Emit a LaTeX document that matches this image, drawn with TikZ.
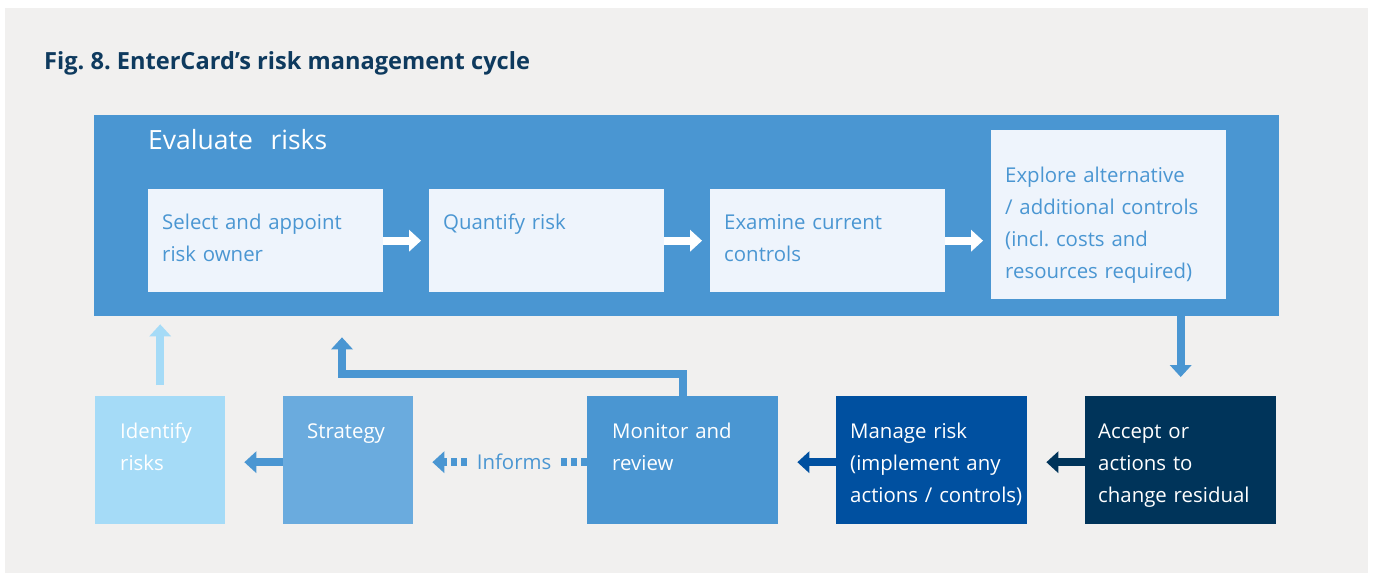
\documentclass[tikz,border=0pt]{standalone}
\usepackage{fontspec}
\setmainfont{Open Sans}
\usepackage{tikz}
\usetikzlibrary{arrows.meta}
\frenchspacing

\definecolor{panelgray}{HTML}{F1F0EF}
\definecolor{midblue}{HTML}{4A96D2}
\definecolor{paleblue}{HTML}{EEF4FC}
\definecolor{skyblue}{HTML}{A5DBF7}
\definecolor{softblue}{HTML}{6AABDE}
\definecolor{deepblue}{HTML}{0050A0}
\definecolor{navyblue}{HTML}{00345A}
\definecolor{titleblue}{HTML}{0E3A5E}

\newcommand\boxfont{\fontsize{20.4}{32}\selectfont}

\tikzset{
  innerbox/.style={fill=paleblue, text=midblue, anchor=north west, align=left, font=\boxfont,
    inner xsep=14pt, inner ysep=0pt, text width=207pt},
  stagebox/.style={text=white, anchor=north west, align=left, font=\boxfont,
    inner ysep=0pt, text height=42pt, text depth=86pt},
  flow/.style={line width=8pt, -{Triangle[width=22pt,length=12pt,line width=0pt 0]}}
}

\begin{document}
\begin{tikzpicture}[x=1pt, y=-1pt]
    \useasboundingbox (0,0) rectangle (1373,575);
    \fill[white] (0,0) rectangle (1373,575);
    \fill[panelgray] (5,8) rectangle (1368,573);

    \node at (44,70) [anchor=base west, inner sep=0pt, text=titleblue, font=\bfseries\fontsize{23.6}{28}\selectfont] (title) {Fig. 8. EnterCard’s risk management cycle};

    % evaluate block
    \node at (94,115) [anchor=north west, fill=midblue, text=white, align=left, font=\fontsize{26.5}{30}\selectfont,
        inner xsep=54pt, inner ysep=0pt, text width=1077pt, text height=34pt, text depth=167pt] (evaluate) {Evaluate~~risks};

    \node at (148,189) [innerbox, text height=40pt, text depth=63pt] (owner) {Select and appoint\\risk owner};
    \node at (429,189) [innerbox, text height=40pt, text depth=63pt] (quantify) {Quantify risk};
    \node at (710,189) [innerbox, text height=40pt, text depth=63pt] (examine) {Examine current\\controls};
    \node at (991,130) [innerbox, text height=52pt, text depth=117pt] (explore) {Explore alternative\\/ additional controls\\(incl. costs and\\resources required)};

    % cycle stages
    \node at (95,396) [stagebox, fill=skyblue, inner xsep=25pt, text width=80pt] (identify) {Identify\\risks};
    \node at (283,396) [stagebox, fill=softblue, inner xsep=24pt, text width=82pt] (strategy) {Strategy};
    \node at (587,396) [stagebox, fill=midblue, inner xsep=25pt, text width=141pt] (monitor) {Monitor and\\review};
    \node at (836,396) [stagebox, fill=deepblue, inner xsep=14pt, text width=163pt] (manage) {Manage risk\\\mbox{(implement any}\\\mbox{actions / controls)}};
    \node at (1085,396) [stagebox, fill=navyblue, inner xsep=13pt, text width=165pt] (accept) {Accept or\\actions to\\\mbox{change residual}};

    \coordinate (loopcorner) at (342,373.5);

    \draw[flow, white, shorten >=8pt] (owner.east) -- (quantify.west);
    \draw[flow, white, shorten >=8pt] (quantify.east) -- (examine.west);
    \draw[flow, white, shorten >=8pt] (examine.east) -- (examine.east -| explore.west);

    \draw[flow, midblue, shorten >=19pt] (accept.north |- evaluate.south) -- (accept.north);
    \draw[flow, navyblue, shorten >=19pt] ([yshift=-2pt]accept.west) -- ([yshift=-2pt]manage.east);
    \draw[flow, deepblue, shorten >=19pt] ([yshift=-2pt]manage.west) -- ([yshift=-2pt]monitor.east);
    \draw[flow, midblue, shorten >=19pt, dash pattern=on 6pt off 4pt] ([yshift=-2pt]monitor.west) -- ([yshift=-2pt]strategy.east)
        node[pos=0.42, fill=panelgray, text=midblue, font=\boxfont, inner xsep=8pt, inner ysep=2pt] (informs) {Informs};
    \draw[flow, midblue, shorten >=19pt] ([yshift=-2pt]strategy.west) -- ([yshift=-2pt]identify.east);
    \draw[flow, midblue, shorten >=21pt] (monitor.north) |- (loopcorner) -- (loopcorner |- evaluate.south);
    \draw[flow, skyblue, shorten <=11pt, shorten >=8pt] (identify.north) -- (identify.north |- evaluate.south);
\end{tikzpicture}
\end{document}
